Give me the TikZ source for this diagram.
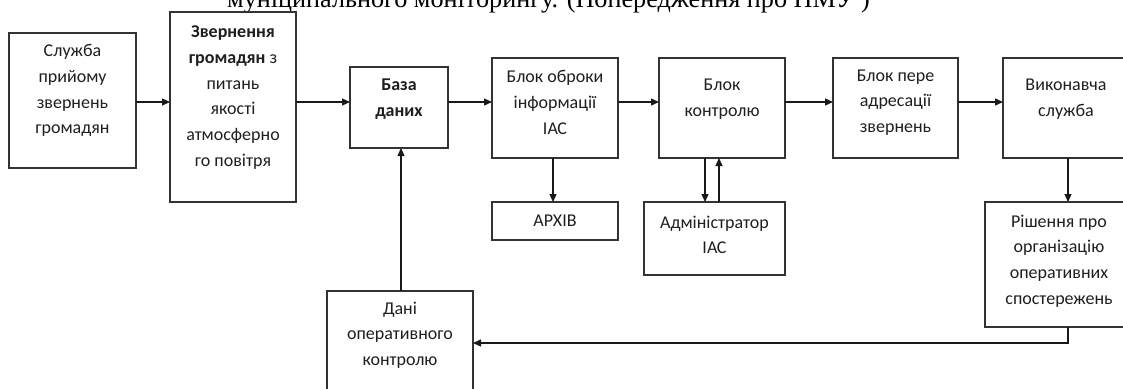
\documentclass[tikz,border=0pt]{standalone}
\usepackage{fontspec}
\setmainfont{Carlito}
\newfontfamily\captionserif{Liberation Serif}
\usetikzlibrary{arrows.meta}

\tikzset{
  box/.style={draw=black!80, line width=1.2pt, inner sep=0pt, outer sep=0pt, fill=none},
  label/.style={align=center, inner sep=0pt, font=\fontsize{18}{25.7}\selectfont, text=black!88},
  flow/.style={draw=black!90, line width=1.2pt, -{Triangle[length=8pt,width=7pt]}},
}

\begin{document}
\begin{tikzpicture}[x=1pt, y=-1pt]
  \useasboundingbox (0,0) rectangle (1123,388);
  \clip (0,0) rectangle (1123,388);

  % heading line, partly above the frame
  \node[anchor=base west, inner sep=0pt, font=\captionserif\fontsize{26.2}{30}\selectfont]
    (head) at (227,7) {муніципального моніторингу. (Попередження про НМУ )};

  % boxes
  \node[box, minimum width=127pt, minimum height=135pt] (b1)   at (72.5,100.5) {};
  \node[box, minimum width=126pt, minimum height=190pt] (b2)   at (233,107) {};
  \node[box, minimum width=98pt,  minimum height=81pt]  (b3)   at (399,107.5) {};
  \node[box, minimum width=126pt, minimum height=100pt] (b4)   at (555,108) {};
  \node[box, minimum width=126pt, minimum height=38pt]  (arch) at (555,221) {};
  \node[box, minimum width=126pt, minimum height=100pt] (b5)   at (722,108) {};
  \node[box, minimum width=141pt, minimum height=73pt]  (adm)  at (714.5,238.5) {};
  \node[box, minimum width=125pt, minimum height=100pt] (b6)   at (895.5,108) {};
  \node[box, minimum width=126pt, minimum height=100pt] (b7)   at (1066,108) {};
  \node[box, minimum width=148pt, minimum height=125pt] (b8)   at (1059,264.5) {};
  \node[box, minimum width=146pt, minimum height=119pt] (dani) at (400,350.5) {};

  % box texts
  \node[label] (t1) at (72.5,90.5) {Служба\\прийому\\звернень\\громадян};
  \node[label] (t2) at (233,97.5) {\textbf{Звернення}\\\textbf{громадян} з\\питань\\якості\\атмосферно\\го повітря};
  \node[label] (t3) at (399,99) {\textbf{База}\\\textbf{даних}};
  \node[label] (t4) at (555,102.5) {Блок оброки\\інформації\\ІАС};
  \node[label] (t5) at (722,99.5) {Блок\\контролю};
  \node[label] (t6) at (895.5,102.5) {Блок пере\\адресації\\звернень};
  \node[label] (t7) at (1066,99.5) {Виконавча\\служба};
  \node[label] (ta) at (555,221) {АРХІВ};
  \node[label] (tm) at (714.5,235) {Адміністратор\\ІАС};
  \node[label] (t8) at (1059,261) {Рішення про\\організацію\\оперативних\\спостережень};
  \node[label] (td) at (400,335) {Дані\\оперативного\\контролю};

  % guide coordinates for connector routes
  \coordinate (row)  at (0,102);
  \coordinate (xa)   at (553,0);
  \coordinate (xd)   at (705,0);
  \coordinate (xu)   at (719,0);
  \coordinate (xr)   at (1068,0);
  \coordinate (xb)   at (401,0);
  \coordinate (back) at (1068,343);

  % main chain
  \draw[flow] (b1.east |- row) -- (b2.west |- row);
  \draw[flow] (b2.east |- row) -- (b3.west |- row);
  \draw[flow] (b3.east |- row) -- (b4.west |- row);
  \draw[flow] (b4.east |- row) -- (b5.west |- row);
  \draw[flow] (b5.east |- row) -- (b6.west |- row);
  \draw[flow] (b6.east |- row) -- (b7.west |- row);

  % branches
  \draw[flow] (xa |- b4.south) -- (xa |- arch.north);
  \draw[flow] (xd |- b5.south) -- (xd |- adm.north);
  \draw[flow] (xu |- adm.north) -- (xu |- b5.south);
  \draw[flow] (xr |- b7.south) -- (xr |- b8.north);

  % feedback loop
  \draw[flow] (xr |- b8.south) -- (back) -- (dani.east |- back);
  \draw[flow] (xb |- dani.north) -- (xb |- b3.south);
\end{tikzpicture}
\end{document}
